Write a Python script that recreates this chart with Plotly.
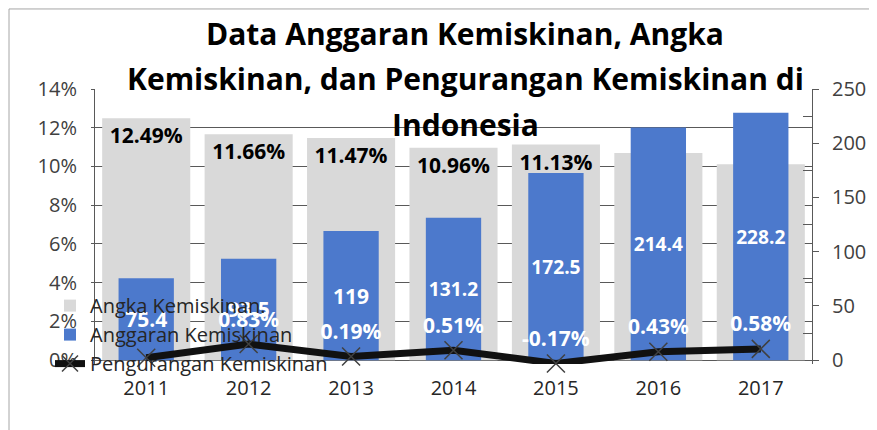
import plotly.graph_objects as go

years = ["2011", "2012", "2013", "2014", "2015", "2016", "2017"]
angka_kemiskinan = [12.49, 11.66, 11.47, 10.96, 11.13, 10.70, 10.12]
angka_label_shown = [True, True, True, True, True, False, False]
anggaran_kemiskinan = [75.4, 93.5, 119, 131.2, 172.5, 214.4, 228.2]
pengurangan_kemiskinan = [0.12, 0.83, 0.19, 0.51, -0.17, 0.43, 0.58]
pengurangan_labels = ["", "0.83%", "0.19%", "0.51%", "-0.17%", "0.43%", "0.58%"]
left_tick_values = [0, 2, 4, 6, 8, 10, 12, 14]
left_tick_labels = ["0%", "2%", "4%", "6%", "8%", "10%", "12%", "14%"]
right_tick_values = [0, 50, 100, 150, 200, 250]
right_minor_values = [25, 75, 125, 175, 225]
title_lines = ["Data Anggaran Kemiskinan, Angka",
               "Kemiskinan, dan Pengurangan Kemiskinan di",
               "Indonesia"]

FONT = "Open Sans"
OFF = 8  # default page body margin
W, H = 869, 422
Y_MAX, Y2_MAX = 14, 250
Y_MIN = -0.2                      # small room so the negative point stays visible
Y2_MIN = Y_MIN / Y_MAX * Y2_MAX
PX_PER_UNIT = 271 / Y_MAX
L, T = 87, 81
PW = 717
PH = PX_PER_UNIT * (Y_MAX - Y_MIN)
R, B = W - L - PW, H - T - PH


def px_x(page_x):
    return (page_x - OFF - L) / PW


def px_y(page_y):
    return (T + PH - (page_y - OFF)) / PH


fig = go.Figure()

fig.add_trace(go.Bar(
    x=years, y=angka_kemiskinan, name="Angka Kemiskinan.",
    width=0.86, marker=dict(color="#d9d9d9", line=dict(width=0)),
    text=[f"{v:.2f}%" if s else "" for v, s in zip(angka_kemiskinan, angka_label_shown)],
    textposition="inside", insidetextanchor="end", textangle=0,
    textfont=dict(family=FONT, size=21, color="#000000", weight="bold"),
    yaxis="y", hoverinfo="skip",
))

fig.add_trace(go.Bar(
    x=years, y=anggaran_kemiskinan, name="Anggaran Kemiskinan",
    width=0.54, marker=dict(color="#4c79cc", line=dict(width=0)),
    text=[f"{v:g}" for v in anggaran_kemiskinan],
    textposition="inside", insidetextanchor="middle", textangle=0,
    textfont=dict(family=FONT, size=21, color="#ffffff", weight="bold"),
    yaxis="y2", hoverinfo="skip",
))

fig.add_trace(go.Scatter(
    x=years, y=pengurangan_kemiskinan, name="Pengurangan Kemiskinan",
    mode="lines+markers+text",
    line=dict(color="#111111", width=7),
    marker=dict(symbol="x-thin", size=18, color="#404040",
                line=dict(color="#404040", width=1.5)),
    text=pengurangan_labels, textposition="top center",
    textfont=dict(family=FONT, size=21, color="#ffffff", weight="bold"),
    cliponaxis=False, yaxis="y3", hoverinfo="skip",
))

for i, line in enumerate(title_lines):
    fig.add_annotation(
        text=line, xref="paper", yref="paper",
        x=px_x(465), y=px_y([34, 79, 124][i]),
        xanchor="center", yanchor="middle", showarrow=False,
        font=dict(family=FONT, size=30, color="#000000", weight="bold"),
    )

# outer chart frame (left and top edges)
fig.add_shape(type="line", xref="paper", yref="paper",
              x0=px_x(9), x1=px_x(9), y0=px_y(9), y1=px_y(440),
              line=dict(color="#a6a6a6", width=1))
fig.add_shape(type="line", xref="paper", yref="paper",
              x0=px_x(9), x1=px_x(890), y0=px_y(9), y1=px_y(9),
              line=dict(color="#a6a6a6", width=1))

tickfont = dict(family=FONT, size=20, color="#404040")

fig.update_layout(
    width=W, height=H,
    margin=dict(l=L, r=R, t=T, b=B, pad=0),
    paper_bgcolor="#ffffff", plot_bgcolor="#ffffff",
    barmode="overlay",
    showlegend=True,
    legend=dict(x=px_x(50), y=px_y(286), xanchor="left", yanchor="top",
                bgcolor="rgba(0,0,0,0)",
                font=dict(family=FONT, size=20, color="#262626"),
                itemwidth=30, tracegroupgap=0),
    xaxis=dict(type="category", range=[-0.5, 6.5],
               showline=False,
               ticks="", tickfont=dict(family=FONT, size=20, color="#262626"),
               showgrid=False, ticklabelstandoff=10),
    yaxis=dict(range=[Y_MIN, Y_MAX], tickmode="array",
               tickvals=left_tick_values, ticktext=left_tick_labels,
               showline=True, linecolor="#595959", linewidth=1,
               ticks="outside", ticklen=3, tickcolor="#595959",
               showgrid=True, gridcolor="#595959", gridwidth=1.3,
               zeroline=True, zerolinecolor="#595959", zerolinewidth=1.3,
               tickfont=tickfont, ticklabelstandoff=10),
    yaxis2=dict(range=[Y2_MIN, Y2_MAX], tickmode="array",
                tickvals=right_tick_values,
                overlaying="y", side="right",
                showline=True, linecolor="#595959", linewidth=1,
                ticks="outside", ticklen=6, tickcolor="#595959",
                minor=dict(tickmode="array", tickvals=right_minor_values,
                           ticks="inside", ticklen=9,
                           tickcolor="#595959", showgrid=False),
                showgrid=False, zeroline=False, tickfont=tickfont,
                ticklabelstandoff=9),
    yaxis3=dict(range=[Y_MIN, Y_MAX], overlaying="y", visible=False,
                showgrid=False, zeroline=False),
)

fig.write_html("out.html")
